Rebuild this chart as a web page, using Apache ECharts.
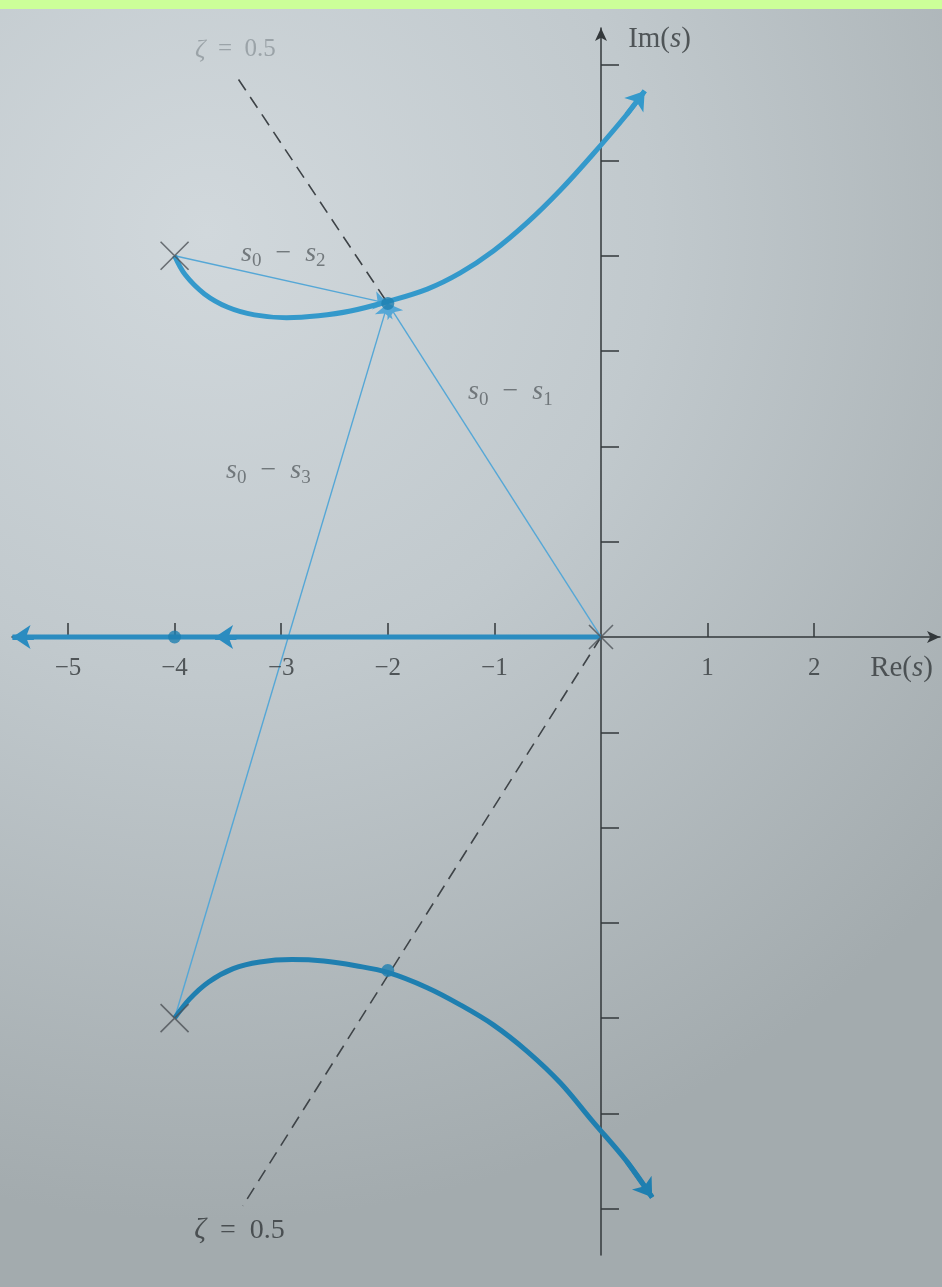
<!DOCTYPE html>
<html>
<head>
<meta charset="utf-8">
<title>Root locus – ζ = 0.5</title>
<script src="https://cdn.jsdelivr.net/npm/echarts@6/dist/echarts.min.js"></script>
<style>
  html, body { margin: 0; padding: 0; background: #c4ccd0; }
  #chart { width: 942px; height: 1287px; }
</style>
</head>
<body>
<div id="chart"></div>
<script>
// ---- axis ticks ----
const realTicks = [-5, -4, -3, -2, -1, 1, 2];
const imagTicks = [-6, -5, -4, -3, -2, -1, 1, 2, 3, 4, 5, 6];

// ---- open-loop poles (marked with ×) ----
const openLoopPoles = [[0, 0], [-4, 4], [-4, -4]];

// ---- closed-loop roots for the chosen gain (dots) ----
const closedLoopRoots = [[-2, 3.5], [-2, -3.5], [-4, 0]];
const s0 = [-2, 3.5];

// ---- complex branches of the locus ----
const upperBranch = [
  [-4, 4], [-3.9, 3.8], [-3.72, 3.6], [-3.5, 3.46], [-3.25, 3.38],
  [-2.95, 3.35], [-2.65, 3.37], [-2.35, 3.42], [-2, 3.52], [-1.63, 3.65],
  [-1.32, 3.82], [-1.01, 4.05], [-0.69, 4.35], [-0.38, 4.69], [-0.08, 5.06],
  [0.24, 5.48], [0.41, 5.73]
];
const lowerBranch = [
  [-4, -4], [-3.86, -3.8], [-3.68, -3.62], [-3.45, -3.48], [-3.2, -3.41],
  [-2.9, -3.385], [-2.6, -3.4], [-2.3, -3.45], [-2, -3.52], [-1.63, -3.68],
  [-1.32, -3.86], [-1.01, -4.07], [-0.69, -4.35], [-0.38, -4.68], [-0.08, -5.08],
  [0.24, -5.50], [0.48, -5.88]
];
// ---- real-axis branch and its direction arrows ----
const realBranch = [[0, 0], [-5.52, 0]];
const realArrowsAt = [-3.62];

// ---- constant damping-ratio line ζ = 0.5 ----
const zetaUpper = [[-3.40, 5.85], [-2, 3.5]];
const zetaLower = [[0, 0], [-3.36, -5.97]];

// ---- annotation anchors ----
const labelAnchors = [
  { name: 's0s2', value: [-2.98, 4.02] },
  { name: 's0s1', value: [-0.85, 2.57] },
  { name: 's0s3', value: [-3.12, 1.75] },
  { name: 'zetaTop', value: [-3.43, 6.16] },
  { name: 'zetaBottom', value: [-3.39, -6.23] }
];
const axisNameAnchors = [
  { name: 'im', value: [0.25, 6.27] },
  { name: 're', value: [2.52, -0.33] }
];

const SERIF = 'Liberation Serif';
const INK = '#33383b';
const SOFT = '#5b6165';
const LOCUS_UP = '#3499cb';
const LOCUS_DN = '#1f7fb0';
const LOCUS_RE = '#2b8cc0';
const VECTOR = '#55a7d6';

function diff(a, b) {
  return '{s|s}{sub|' + a + '}{op|  −  }{s|s}{sub|' + b + '}';
}

const labelText = {
  s0s2: diff(0, 2),
  s0s1: diff(0, 1),
  s0s3: diff(0, 3),
  zetaTop: '{zf|ζ}{tf|  =  0.5}',
  zetaBottom: '{z|ζ}{t|  =  0.5}',
  im: '{n|Im(}{ni|s}{n|)}',
  re: '{n|Re(}{ni|s}{n|)}'
};

const richStyles = {
  s:   { fontFamily: SERIF, fontStyle: 'italic', fontSize: 28, color: SOFT },
  sub: { fontFamily: SERIF, fontSize: 19, color: SOFT, padding: [15, 0, 0, 0] },
  op:  { fontFamily: SERIF, fontSize: 28, color: SOFT },
  z:   { fontFamily: SERIF, fontStyle: 'italic', fontSize: 29, color: INK },
  t:   { fontFamily: SERIF, fontSize: 28, color: INK },
  n:   { fontFamily: SERIF, fontSize: 29, color: INK },
  ni:  { fontFamily: SERIF, fontStyle: 'italic', fontSize: 29, color: INK },
  zf:  { fontFamily: SERIF, fontStyle: 'italic', fontSize: 26, color: '#8e979c' },
  tf:  { fontFamily: SERIF, fontSize: 25, color: '#8e979c' }
};

function arrowSegment(points) {
  const n = points.length;
  return [points[n - 2], points[n - 1]];
}

const chart = echarts.init(document.getElementById('chart'), null, { renderer: 'canvas' });

chart.setOption({
  animation: false,
  graphic: [
    {
      type: 'rect', z: -100, silent: true,
      shape: { x: 0, y: 0, width: 942, height: 1287 },
      style: {
        fill: {
          type: 'radial', x: 0.22, y: 0.18, r: 1.05,
          colorStops: [
            { offset: 0, color: '#d1d8dc' },
            { offset: 0.45, color: '#c1c9cd' },
            { offset: 1, color: '#a3abae' }
          ]
        }
      }
    },
    {
      type: 'rect', z: -99, silent: true,
      shape: { x: 0, y: 0, width: 942, height: 9 },
      style: { fill: '#ccff99' }
    }
  ],
  grid: { left: 12, right: 2, top: 28, bottom: 32, outerBoundsMode: 'none', containLabel: false },
  xAxis: {
    type: 'value',
    min: -5.525, max: 3.18,
    axisLine: {
      onZero: true,
      symbol: ['none', 'arrow'], symbolSize: [9, 13],
      lineStyle: { color: INK, width: 1.5 }
    },
    axisTick: {
      show: true, inside: true, length: 14,
      customValues: realTicks,
      lineStyle: { color: INK, width: 1.5 }
    },
    axisLabel: { show: false },
    splitLine: { show: false }
  },
  yAxis: {
    type: 'value',
    min: -6.485, max: 6.39,
    axisLine: {
      onZero: true,
      symbol: ['none', 'arrow'], symbolSize: [9, 13],
      lineStyle: { color: INK, width: 1.5 }
    },
    axisTick: {
      show: true, inside: true, length: 18,
      customValues: imagTicks,
      lineStyle: { color: INK, width: 1.5 }
    },
    axisLabel: { show: false },
    splitLine: { show: false }
  },
  series: [
    // ζ = 0.5 line
    {
      type: 'lines', coordinateSystem: 'cartesian2d', z: 3,
      lineStyle: { color: '#3f4448', width: 1.6, type: [13, 8], opacity: 1 },
      data: [{ coords: zetaUpper }, { coords: zetaLower }]
    },
    // vectors from each open-loop pole to s0
    {
      type: 'lines', coordinateSystem: 'cartesian2d', z: 4,
      symbol: ['none', 'arrow'], symbolSize: 14,
      lineStyle: { color: VECTOR, width: 1.4, opacity: 1 },
      data: openLoopPoles.map(p => ({ coords: [p, s0] }))
    },
    // real-axis branch
    {
      type: 'line', z: 5, showSymbol: false, symbol: 'none',
      lineStyle: { color: LOCUS_RE, width: 5 },
      data: realBranch
    },
    // complex branches
    {
      type: 'line', z: 5, showSymbol: false, symbol: 'none', smooth: 0.35,
      lineStyle: { color: LOCUS_UP, width: 5 },
      data: upperBranch
    },
    {
      type: 'line', z: 5, showSymbol: false, symbol: 'none', smooth: 0.35,
      lineStyle: { color: LOCUS_DN, width: 5 },
      data: lowerBranch
    },
    // direction arrowheads on the branches
    {
      type: 'lines', coordinateSystem: 'cartesian2d', z: 6,
      symbol: ['none', 'arrow'], symbolSize: 18,
      lineStyle: { width: 5, opacity: 1 },
      data: [
        { coords: arrowSegment(upperBranch), lineStyle: { color: LOCUS_UP } },
        { coords: arrowSegment(lowerBranch), lineStyle: { color: LOCUS_DN } },
        { coords: [[realBranch[1][0] + 0.2, 0], realBranch[1]], lineStyle: { color: LOCUS_RE } }
      ].concat(realArrowsAt.map(x => ({
        coords: [[x + 0.2, 0], [x, 0]], lineStyle: { color: LOCUS_RE }
      })))
    },
    // closed-loop roots
    {
      type: 'scatter', z: 7, symbol: 'circle', symbolSize: 13,
      itemStyle: { color: '#1f7fb0' },
      data: closedLoopRoots
    },
    // open-loop poles
    {
      type: 'scatter', z: 8,
      symbol: 'path://M0,0L20,20M20,0L0,20',
      symbolSize: (v) => (v[0] === 0 && v[1] === 0 ? 24 : 28),
      itemStyle: { color: 'rgba(0,0,0,0)', borderColor: '#4d5357', borderWidth: 1.6 },
      data: openLoopPoles
    },
    // real-axis tick labels
    {
      type: 'scatter', z: 9, symbolSize: 1,
      itemStyle: { color: 'rgba(0,0,0,0)' },
      label: {
        show: true, position: 'bottom', distance: 18,
        fontFamily: SERIF, fontSize: 25, color: INK,
        formatter: p => (p.value[0] < 0 ? '−' + Math.abs(p.value[0]) : String(p.value[0]))
      },
      data: realTicks.map(v => [v, 0])
    },
    // annotations
    {
      type: 'scatter', z: 9, symbolSize: 1,
      itemStyle: { color: 'rgba(0,0,0,0)' },
      label: {
        show: true, position: 'inside',
        formatter: p => labelText[p.name],
        rich: richStyles
      },
      data: labelAnchors
    },
    // axis names
    {
      type: 'scatter', z: 9, symbolSize: 1,
      itemStyle: { color: 'rgba(0,0,0,0)' },
      label: {
        show: true, position: 'right', distance: 0,
        formatter: p => labelText[p.name],
        rich: richStyles
      },
      data: axisNameAnchors
    }
  ]
});
</script>
</body>
</html>
